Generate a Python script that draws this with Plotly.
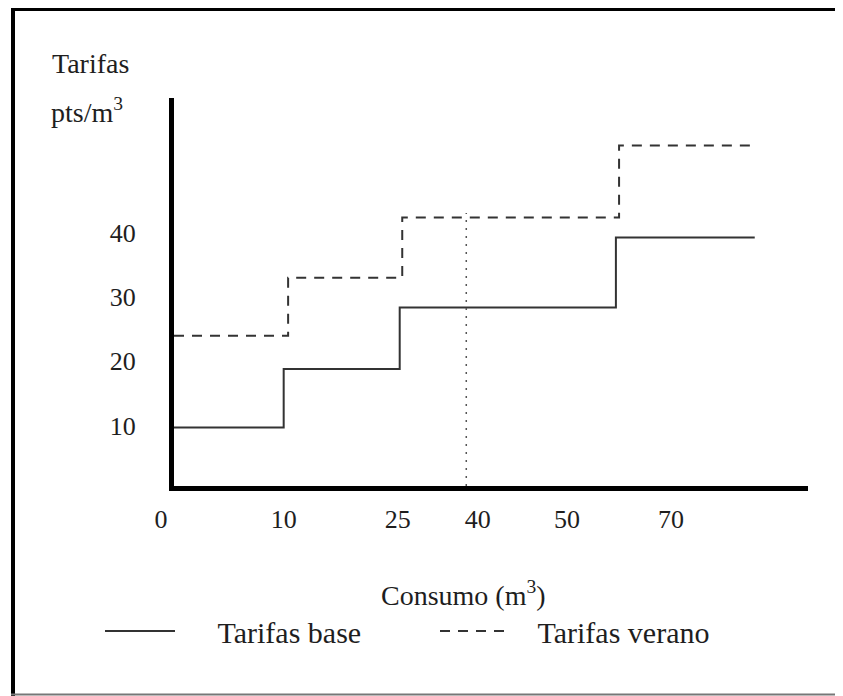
import plotly.graph_objects as go

NB = "\u00a0"

# Schematic positions along the "Consumo" axis (drawing units) and tariff levels
base_x = [0, 17.3, 35.6, 69.7, 91.6]
base_y = [9.7, 18.8, 28.4, 39.3, 39.3]
verano_x = [0, 18.0, 36.0, 70.2, 91.3]
verano_y = [24.0, 33.0, 42.4, 53.6, 53.6]
ref_x = [46.1, 46.1]
ref_y = [0.6, 43.1]

x_tick_pos = [0, 17.3, 35.3, 47.9, 62.0, 78.4]
x_tick_text = ["0" + NB * 4, "10", "25", "40", "50", "70"]
y_tick_vals = [10, 20, 30, 40]
y_tick_text = ["10", "20", "30", "40"]

series_names = [NB * 5 + "Tarifas base", NB * 3 + "Tarifas verano"]

# The page body adds an 8px offset; the figure is sized to fit the window.
OFF = 8
W, H = 843 - OFF, 696 - OFF
L, R, T, B = 166, 35, 90, 210
PW, PH = W - L - R, H - T - B


def px(x):
    """screen x -> paper x"""
    return (x - OFF - L) / PW


def py(y):
    """screen y -> paper y"""
    return (H - B - (y - OFF)) / PH


FONT = "Liberation Serif, Times New Roman, serif"
INK = "#1e1e1e"

fig = go.Figure()
fig.add_trace(go.Scatter(
    x=base_x, y=base_y, mode="lines", line_shape="hv", name=series_names[0],
    line=dict(color="#333333", width=2),
))
fig.add_trace(go.Scatter(
    x=verano_x, y=verano_y, mode="lines", line_shape="hv", name=series_names[1],
    line=dict(color="#333333", width=2, dash="10px,8px"),
))
fig.add_trace(go.Scatter(
    x=ref_x, y=ref_y, mode="lines", showlegend=False,
    line=dict(color="#555555", width=1.5, dash="2px,6px"),
))

fig.update_layout(
    width=W, height=H,
    margin=dict(l=L, r=R, t=T, b=B),
    paper_bgcolor="white", plot_bgcolor="white",
    font=dict(family=FONT, size=26, color=INK),
    xaxis=dict(range=[0, 100], showline=True, linewidth=5, linecolor="black",
               showgrid=False, zeroline=False, ticks="", tickmode="array",
               tickvals=x_tick_pos, ticktext=x_tick_text, ticklabelstandoff=6,
               tickfont=dict(family=FONT, size=26, color=INK)),
    yaxis=dict(range=[0.6, 61.0], showline=True, linewidth=5, linecolor="black",
               showgrid=False, zeroline=False, ticks="", tickmode="array",
               tickvals=y_tick_vals, ticktext=y_tick_text, ticklabelstandoff=28,
               tickfont=dict(family=FONT, size=26, color=INK)),
    showlegend=True,
    legend=dict(orientation="h", x=px(100), y=py(631), xanchor="left", yanchor="middle",
                itemwidth=70, entrywidth=250, entrywidthmode="pixels",
                font=dict(family=FONT, size=30, color=INK), bgcolor="rgba(0,0,0,0)"),
    annotations=[
        dict(text="Tarifas", x=px(50), y=py(63), xref="paper", yref="paper",
             xanchor="left", yanchor="middle", showarrow=False,
             font=dict(family=FONT, size=28, color=INK)),
        dict(text="pts/m<sup>3</sup>", x=px(49), y=py(110), xref="paper", yref="paper",
             xanchor="left", yanchor="middle", showarrow=False,
             font=dict(family=FONT, size=28, color=INK)),
        dict(text="Consumo (m<sup>3</sup>)", x=px(463), y=py(593), xref="paper", yref="paper",
             xanchor="center", yanchor="middle", showarrow=False,
             font=dict(family=FONT, size=28, color=INK)),
    ],
    shapes=[
        dict(type="line", xref="paper", yref="paper", x0=px(11), x1=px(843), y0=py(9), y1=py(9),
             line=dict(color="black", width=4)),
        dict(type="line", xref="paper", yref="paper", x0=px(13), x1=px(13), y0=py(7), y1=py(696),
             line=dict(color="black", width=4)),
        dict(type="line", xref="paper", yref="paper", x0=px(11), x1=px(843), y0=py(694.5), y1=py(694.5),
             line=dict(color="#777777", width=2)),
    ],
)

fig.write_html("out.html")
